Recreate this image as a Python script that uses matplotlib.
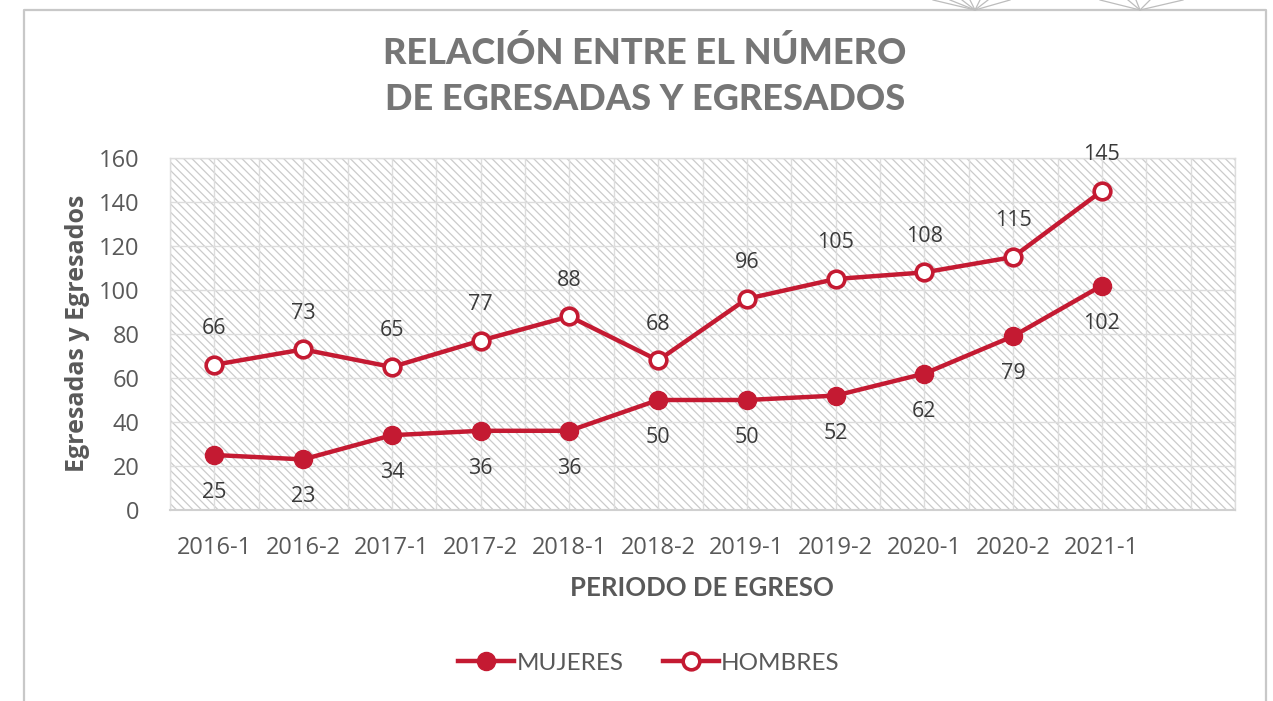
import matplotlib
matplotlib.use("Agg")
import matplotlib.pyplot as plt
from matplotlib.patches import Rectangle
from matplotlib.lines import Line2D
import numpy as np

periodos = ["2016-1", "2016-2", "2017-1", "2017-2", "2018-1", "2018-2",
            "2019-1", "2019-2", "2020-1", "2020-2", "2021-1"]
mujeres = [25, 23, 34, 36, 36, 50, 50, 52, 62, 79, 102]
hombres = [66, 73, 65, 77, 88, 68, 96, 105, 108, 115, 145]
yticks = [0, 20, 40, 60, 80, 100, 120, 140, 160]

RED = "#C41A32"
GRAY_TXT = "#595959"
LABEL_TXT = "#3A3A3A"
GRID = "#DDDDDD"

plt.rcParams["hatch.linewidth"] = 0.9
plt.rcParams["hatch.color"] = "#CBCBCB"

W, H = 1273, 701
fig = plt.figure(figsize=(W / 100, H / 100), dpi=100)

# outer frame
frame = Line2D([24 / W, 24 / W, 1266 / W, 1266 / W],
               [0, 1 - 10 / H, 1 - 10 / H, 0],
               transform=fig.transFigure, color="#C8C8C8", lw=1.6)
fig.add_artist(frame)
# decorative rays at top right
for cx, ends in [(975, [933, 950, 962, 970, 980, 988, 1010]),
                 (1140, [1100, 1128, 1136, 1150, 1183])]:
    for ex in ends:
        fig.add_artist(Line2D([cx / W, ex / W], [1 - 10 / H, 1.0],
                              transform=fig.transFigure, color="#BDBDBD", lw=0.9))

left, right, top, bottom = 170, 1235, 158, 510
ax = fig.add_axes([left / W, 1 - bottom / H, (right - left) / W, (bottom - top) / H])
ax.set_xlim(-0.5, 11.5)
ax.set_ylim(0, 160)

# hatched background
ax.add_patch(Rectangle((0, 0), 1, 1, transform=ax.transAxes, facecolor="white",
                       edgecolor="#CBCBCB", hatch="\\\\\\\\", lw=0, zorder=0))

# grid
for gx in np.arange(-0.5, 11.6, 0.5):
    ax.axvline(gx, color=GRID, lw=1.0, zorder=1)
for gy in yticks:
    ax.axhline(gy, color=GRID, lw=1.0, zorder=1)

for s in ax.spines.values():
    s.set_color(GRID)
    s.set_linewidth(1.0)
ax.spines["bottom"].set_color("#D0D0D0")
ax.spines["bottom"].set_linewidth(1.5)

x = np.arange(len(periodos))
ax.plot(x, mujeres, color=RED, lw=3.2, marker="o", markersize=13,
        markerfacecolor=RED, markeredgecolor=RED, zorder=3, label="MUJERES")
ax.plot(x, hombres, color=RED, lw=3.2, marker="o", markersize=12,
        markerfacecolor="white", markeredgecolor=RED, markeredgewidth=2.6,
        zorder=3, label="HOMBRES")

for xi, v in zip(x, hombres):
    ax.annotate(str(v), (xi, v), xytext=(0, 26), textcoords="offset points",
                ha="center", va="center", fontsize=15.5, color=LABEL_TXT,
                family="Open Sans")
for xi, v in zip(x, mujeres):
    ax.annotate(str(v), (xi, v), xytext=(0, -27), textcoords="offset points",
                ha="center", va="center", fontsize=15.5, color=LABEL_TXT,
                family="Open Sans")

ax.set_xticks(x)
ax.set_xticklabels(periodos, fontsize=17, color=GRAY_TXT, family="Open Sans")
ax.set_yticks(yticks)
ax.set_yticklabels([str(t) for t in yticks], fontsize=17, color=GRAY_TXT,
                   family="Open Sans")
ax.tick_params(axis="both", length=0)
ax.tick_params(axis="x", pad=19)
ax.tick_params(axis="y", pad=22)

fig.text(78 / W, 1 - 333 / H, "Egresadas y Egresados", rotation=90,
         ha="center", va="center", fontsize=18, fontweight="bold",
         color=GRAY_TXT, family="Open Sans")
fig.text(702 / W, 1 - 588 / H, "PERIODO DE EGRESO", ha="center", va="center",
         fontsize=18.5, fontweight="bold", color=GRAY_TXT, family="Lato")

fig.text(645 / W, 1 - 53 / H, "RELACIÓN ENTRE EL NÚMERO", ha="center",
         va="center", fontsize=26, fontweight="black", color="#767676",
         family="Lato")
fig.text(645 / W, 1 - 99 / H, "DE EGRESADAS Y EGRESADOS", ha="center",
         va="center", fontsize=26, fontweight="black", color="#767676",
         family="Lato")

leg = fig.legend(loc="center", bbox_to_anchor=(649 / W, 1 - 663 / H), ncol=2,
                 frameon=False, handlelength=2.3,
                 handletextpad=0.1, columnspacing=1.6,
                 prop={"family": "Lato", "size": 17.5, "weight": "normal"})
for t in leg.get_texts():
    t.set_color(GRAY_TXT)

fig.savefig("out.png", dpi=100)
